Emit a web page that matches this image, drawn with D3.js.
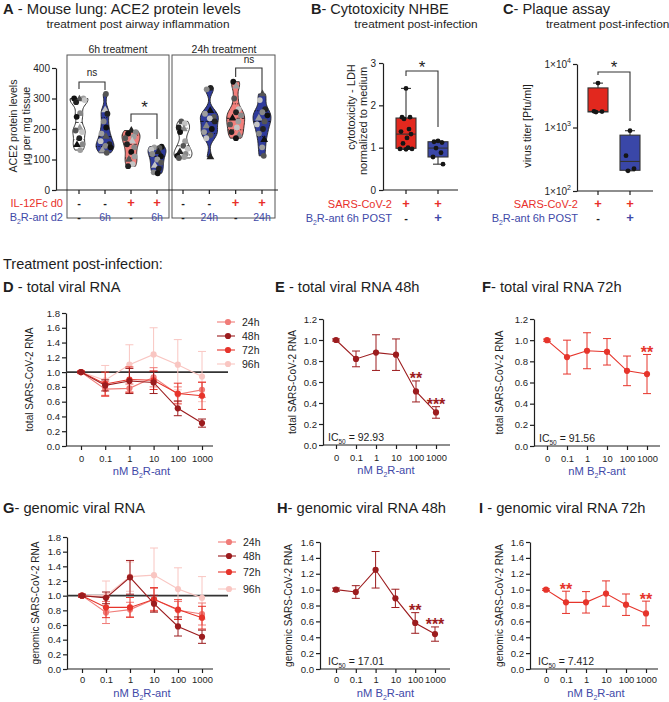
<!DOCTYPE html>
<html><head><meta charset="utf-8">
<script src="https://cdn.jsdelivr.net/npm/d3@7"></script>
<style>body{margin:0;background:#fff}svg{display:block}</style>
</head><body>
<svg id="c" width="669" height="702"></svg>
<script>
// ---------- DATA ----------
// Panel A: ACE2 protein (µg per mg tissue), individual mice
const aGroups = ["ctrl6h","b2r6h","il12_6h","il12b2r6h","ctrl24h","b2r24h","il12_24h","il12b2r24h"];
const aCtrl6h = [300,300,298,295,288,252,240,203,195,190,170,150,148,131];
const aB2r6h = [315,262,250,225,205,185,175,160,150,145,140,130,122];
const aIl12_6h = [195,190,185,175,170,160,150,140,125,110,100,85,78];
const aIl12B2r6h = [142,140,138,132,125,118,110,100,90,80,70,58,55];
const aCtrl24h = [225,218,205,200,190,160,145,135,125,118,112,108,105];
const aB2r24h = [335,330,260,250,240,235,225,210,200,190,180,170,108];
const aIl12_24h = [355,340,300,265,255,245,235,225,215,205,190,180,170];
const aIl12B2r24h = [315,295,265,255,245,235,225,215,200,185,165,140,112];
const aIl12Row = ["-","-","+","+","-","-","+","+"];
const aB2rRow = ["-","6h","-","6h","-","24h","-","24h"];
const aTicks = [0,100,200,300,400];
// Panel B: cytotoxicity (LDH, normalized)
const bSars = [2.4,1.72,1.72,1.68,1.44,1.38,1.32,1.23,1.1,1.0,0.97,0.97,0.96];
const bSarsB2r = [1.16,1.14,1.12,0.99,0.88,0.78,0.61];
const bTicks = [0,1,2,3];
// Panel C: plaque assay (Pfu/ml)
const cSars = [5000,1800,1780,1750];
const cSarsB2r = [890,360,224,208];
const cTicks = [100,1000,10000];
// Panels D-I: viral RNA vs dose
const doses = ["0","0.1","1","10","100","1000"];
const total24 = [1.0,0.77,0.78,0.93,0.70,0.76];
const total24Err = [0.02,0.10,0.06,0.13,0.10,0.10];
const total48 = [1.0,0.82,0.88,0.86,0.51,0.31];
const total48Err = [0.01,0.075,0.17,0.15,0.10,0.055];
const total72 = [1.0,0.84,0.90,0.89,0.71,0.68];
const total72Err = [0.01,0.16,0.17,0.125,0.14,0.185];
const total96 = [1.0,0.89,1.10,1.24,1.10,0.94];
const total96Err = [0.02,0.20,0.27,0.36,0.34,0.34];
const genomic24 = [1.0,0.77,0.81,0.95,0.80,0.75];
const genomic24Err = [0.02,0.15,0.10,0.15,0.12,0.15];
const genomic48 = [1.0,0.97,1.25,0.89,0.58,0.44];
const genomic48Err = [0.02,0.08,0.23,0.115,0.13,0.09];
const genomic72 = [1.0,0.84,0.84,0.95,0.81,0.70];
const genomic72Err = [0.01,0.14,0.135,0.16,0.135,0.155];
const genomic96 = [1.0,1.0,1.26,1.28,1.09,0.97];
const genomic96Err = [0.02,0.2,0.2,0.37,0.29,0.29];
const timeLabels = ["24h","48h","72h","96h"];

// ---------- STYLE ----------
const FONT = '"Liberation Sans", Arial, Helvetica, sans-serif';
const INK = "#1e1e1e";
const BLUE_TXT = "#4149a8";
const RED_TXT = "#e8302a";
const C24 = "#f07c78", C48 = "#9c1c1e", C72 = "#e6342b", C96 = "#f9c6c2";
const VBLUE = "#2f3b9b", VSALMON = "#f27f7b";

const svg = d3.select("#c").style("font-family", FONT);

function title(x, y, letter, rest, size) {
  const t = svg.append("text").attr("x", x).attr("y", y).attr("font-size", size || 14.7).attr("fill", INK);
  t.append("tspan").attr("font-weight", "bold").text(letter);
  t.append("tspan").text(rest);
}
function plain(x, y, s, size, anchor, color, rot) {
  const t = svg.append("text").attr("font-size", size).attr("fill", color || INK)
    .attr("text-anchor", anchor || "start").text(s);
  if (rot) t.attr("transform", `translate(${x},${y}) rotate(-90)`);
  else t.attr("x", x).attr("y", y);
  return t;
}
function b2rText(x, y, size, anchor, color, suffix) {
  const t = svg.append("text").attr("x", x).attr("y", y).attr("font-size", size)
    .attr("fill", color).attr("text-anchor", anchor);
  t.append("tspan").text(suffix[0]);
  t.append("tspan").attr("font-size", size * 0.62).attr("dy", 2.5).text("2");
  t.append("tspan").attr("dy", -2.5).text(suffix[1]);
  return t;
}
function styleAxis(g, fs) {
  g.select(".domain").attr("stroke", INK).attr("stroke-width", 1.2);
  g.selectAll(".tick line").attr("stroke", INK).attr("stroke-width", 1.2);
  g.selectAll(".tick text").attr("font-size", fs).attr("font-family", FONT).attr("fill", INK);
}
function gpQuantile(sorted, p) {
  const n = sorted.length, pos = p * (n + 1);
  if (pos <= 1) return sorted[0];
  if (pos >= n) return sorted[n - 1];
  const lo = Math.floor(pos), f = pos - lo;
  return sorted[lo - 1] + f * (sorted[lo] - sorted[lo - 1]);
}
function bracket(x1, x2, yTop, yL, yR) {
  svg.append("path").attr("d", `M${x1},${yL}V${yTop}H${x2}V${yR}`)
    .attr("fill", "none").attr("stroke", "#333").attr("stroke-width", 1.1);
}

// ---------- TITLES ----------
title(3, 14, "A", " - Mouse lung: ACE2 protein levels", 14.8);
plain(138, 28, "treatment post airway inflammation", 11.8, "middle");
title(311, 14, "B", "- Cytotoxicity NHBE", 14.5);
plain(416, 28, "treatment post-infection", 11.8, "middle");
title(503, 14, "C", "- Plaque assay", 14.6);
plain(546, 28, "treatment post-infection", 11.8, "start");
plain(3, 269, "Treatment post-infection:", 14.5, "start");

// ---------- PANEL A ----------
const aY = d3.scaleLinear().domain([0, 400]).range([190, 68]);
const aX6 = d3.scalePoint().domain(aGroups.slice(0, 4)).range([79, 157]);
const aX24 = d3.scalePoint().domain(aGroups.slice(4)).range([183, 262]);
const aXpos = g => aGroups.indexOf(g) < 4 ? aX6(g) : aX24(g);
svg.append("rect").attr("x", 67).attr("y", 55).attr("width", 102).attr("height", 163)
  .attr("fill", "none").attr("stroke", "#555").attr("stroke-width", 1);
svg.append("rect").attr("x", 172).attr("y", 55).attr("width", 103).attr("height", 163)
  .attr("fill", "none").attr("stroke", "#555").attr("stroke-width", 1);
plain(118, 53, "6h treatment", 10.5, "middle");
plain(224, 53, "24h treatment", 10.5, "middle");
{
  const ga = svg.append("g").attr("transform", "translate(56,0)")
    .call(d3.axisLeft(aY).tickValues(aTicks).tickSize(4).tickSizeOuter(0).tickPadding(2).tickFormat(d3.format("d")));
  styleAxis(ga, 10);
  svg.append("line").attr("x1", 56).attr("x2", 278).attr("y1", 190).attr("y2", 190)
    .attr("stroke", INK).attr("stroke-width", 1.2);
  aGroups.forEach(g => svg.append("line").attr("x1", aXpos(g)).attr("x2", aXpos(g))
    .attr("y1", 190).attr("y2", 194).attr("stroke", INK).attr("stroke-width", 1.2));
}
plain(17, 126, "ACE2 protein levels", 10.6, "middle", INK, true);
plain(30, 126, "µg per mg tissue", 10.6, "middle", INK, true);

const aSets = [aCtrl6h, aB2r6h, aIl12_6h, aIl12B2r6h, aCtrl24h, aB2r24h, aIl12_24h, aIl12B2r24h];
const aFills = ["#fff", VBLUE, VSALMON, VBLUE, "#fff", VBLUE, VSALMON, VBLUE];
const ptCols = ["#111", "#9e9e9e", "#555", "#c4c4c4", "#222", "#888"];
const jit = [-0.55, 0.5, 0.05, 0.62, -0.35, 0.3, -0.65, 0.15];
aSets.forEach((vals, gi) => {
  const cx = aXpos(aGroups[gi]);
  const lo = d3.min(vals), hi = d3.max(vals), h = 17;
  const dens = v => d3.sum(vals, d => Math.exp(-0.5 * ((v - d) / h) ** 2));
  const grid = d3.range(0, 41).map(i => lo + (hi - lo) * i / 40);
  const mx = d3.max(grid, dens);
  const W = 9;
  const hw = v => dens(v) / mx * W;
  const area = d3.area().y(d => aY(d)).x0(d => cx - hw(d)).x1(d => cx + hw(d)).curve(d3.curveBasis);
  svg.append("path").attr("d", area(grid)).attr("fill", aFills[gi])
    .attr("stroke", "#222").attr("stroke-width", 0.9);
  const s = vals.slice().sort(d3.ascending);
  [[0.25, "1,1.5"], [0.5, "3,2"], [0.75, "1,1.5"]].forEach(([p, da]) => {
    const q = gpQuantile(s, p), w = hw(q);
    svg.append("line").attr("x1", cx - w).attr("x2", cx + w).attr("y1", aY(q)).attr("y2", aY(q))
      .attr("stroke", aFills[gi] === "#fff" ? "#333" : "#111").attr("stroke-width", 0.9)
      .attr("stroke-dasharray", da);
  });
  vals.forEach((v, i) => {
    const px = cx + jit[(i + gi) % jit.length] * hw(v);
    const col = ptCols[(i + gi * 2) % ptCols.length];
    if ((i + gi) % 5 === 2) {
      svg.append("path").attr("d", d3.symbol(d3.symbolTriangle, 26)())
        .attr("transform", `translate(${px},${aY(v)})`).attr("fill", col);
    } else {
      svg.append("circle").attr("cx", px).attr("cy", aY(v)).attr("r", 2.9).attr("fill", col);
    }
  });
});
bracket(aXpos("ctrl6h"), aXpos("b2r6h"), 82, 89, 90);
plain(92, 76, "ns", 10, "middle");
bracket(aXpos("il12_6h"), aXpos("il12b2r6h"), 114, 122, 139);
plain(144.5, 113, "*", 17, "middle");
bracket(aXpos("il12_24h"), aXpos("il12b2r24h"), 68, 77, 93);
plain(249, 63, "ns", 10, "middle");
plain(63, 207, "IL-12Fc d0", 11, "end", RED_TXT);
b2rText(63, 221, 11, "end", BLUE_TXT, ["B", "R-ant d2"]);
aGroups.forEach((g, i) => {
  const cx = aXpos(g);
  plain(cx, 207, aIl12Row[i], aIl12Row[i] === "+" ? 13 : 11, "middle", aIl12Row[i] === "+" ? RED_TXT : INK)
    .attr("font-weight", "bold");
  plain(cx, 221, aB2rRow[i], 10.5, "middle", aB2rRow[i] === "-" ? INK : BLUE_TXT)
    .attr("font-weight", aB2rRow[i] === "-" ? "bold" : "normal");
});

// ---------- BOX PLOTS (B, C) ----------
function boxPlot(vals, cx, y, fill) {
  const s = vals.slice().sort(d3.ascending);
  const q1 = gpQuantile(s, 0.25), md = gpQuantile(s, 0.5), q3 = gpQuantile(s, 0.75);
  const mn = s[0], mxv = s[s.length - 1], bw = 20;
  const ln = (x1, y1, x2, y2) => svg.append("line").attr("x1", x1).attr("y1", y1).attr("x2", x2).attr("y2", y2)
    .attr("stroke", "#333").attr("stroke-width", 1.1);
  ln(cx, y(mxv), cx, y(q3)); ln(cx, y(q1), cx, y(mn));
  ln(cx - 5, y(mxv), cx + 5, y(mxv)); ln(cx - 5, y(mn), cx + 5, y(mn));
  svg.append("rect").attr("x", cx - bw / 2).attr("y", y(q3)).attr("width", bw).attr("height", y(q1) - y(q3))
    .attr("fill", fill).attr("stroke", "#333").attr("stroke-width", 1.1);
  ln(cx - bw / 2, y(md), cx + bw / 2, y(md));
  const off = [0, -4, 4, -2, 3, -5, 5, 1, -3, 2, -6, 6, 0];
  vals.forEach((v, i) => svg.append("circle").attr("cx", cx + off[i % off.length]).attr("cy", y(v))
    .attr("r", 2.4).attr("fill", "#151515"));
}
// Panel B
const bY = d3.scaleLinear().domain([0, 3]).range([190, 63]);
const bX = d3.scalePoint().domain(["SARS", "SARS+B2R"]).range([406, 438]);
{
  const g = svg.append("g").attr("transform", "translate(383,0)")
    .call(d3.axisLeft(bY).tickValues(bTicks).tickSize(4).tickSizeOuter(0).tickPadding(3).tickFormat(d3.format("d")));
  styleAxis(g, 10);
  svg.append("line").attr("x1", 383).attr("x2", 458).attr("y1", 190).attr("y2", 190).attr("stroke", INK).attr("stroke-width", 1.2);
  bX.domain().forEach(d => svg.append("line").attr("x1", bX(d)).attr("x2", bX(d)).attr("y1", 190).attr("y2", 194).attr("stroke", INK).attr("stroke-width", 1.2));
}
boxPlot(bSars, bX("SARS"), bY, "#e2281e");
boxPlot(bSarsB2r, bX("SARS+B2R"), bY, "#3a47a8");
bracket(bX("SARS"), bX("SARS+B2R"), 71, 76, 127);
plain(422, 73, "*", 17, "middle");
plain(355, 107, "cytotoxicity - LDH", 11, "middle", INK, true);
plain(367, 121, "normalized to medium", 11, "middle", INK, true);
plain(392, 208, "SARS-CoV-2", 11, "end", RED_TXT);
b2rText(392, 222, 11, "end", BLUE_TXT, ["B", "R-ant 6h POST"]);
plain(bX("SARS"), 208, "+", 13, "middle", RED_TXT).attr("font-weight", "bold");
plain(bX("SARS+B2R"), 208, "+", 13, "middle", RED_TXT).attr("font-weight", "bold");
plain(bX("SARS"), 222, "-", 11, "middle", INK).attr("font-weight", "bold");
plain(bX("SARS+B2R"), 222, "+", 13, "middle", BLUE_TXT).attr("font-weight", "bold");

// Panel C
const cY = d3.scaleLog().domain([100, 10000]).range([191, 64]);
const cX = d3.scalePoint().domain(["SARS", "SARS+B2R"]).range([598, 630]);
{
  const g = svg.append("g").attr("transform", "translate(577,0)")
    .call(d3.axisLeft(cY).tickValues(cTicks).tickSize(4).tickSizeOuter(0).tickPadding(3).tickFormat(() => ""));
  styleAxis(g, 10);
  cTicks.forEach(t => {
    const tx = svg.append("text").attr("x", 571).attr("y", cY(t) + 3.5).attr("font-size", 10)
      .attr("text-anchor", "end").attr("fill", INK);
    tx.append("tspan").text("1×10");
    tx.append("tspan").attr("font-size", 7).attr("dy", -5).text(String(Math.round(Math.log10(t))));
  });
  svg.append("line").attr("x1", 577).attr("x2", 653).attr("y1", 191).attr("y2", 191).attr("stroke", INK).attr("stroke-width", 1.2);
  cX.domain().forEach(d => svg.append("line").attr("x1", cX(d)).attr("x2", cX(d)).attr("y1", 191).attr("y2", 195).attr("stroke", INK).attr("stroke-width", 1.2));
}
boxPlot(cSars, cX("SARS"), cY, "#e2281e");
boxPlot(cSarsB2r, cX("SARS+B2R"), cY, "#3a47a8");
bracket(cX("SARS"), cX("SARS+B2R"), 72, 75, 121);
plain(614, 73, "*", 17, "middle");
plain(531, 126, "virus titer [Pfu/ml]", 10.8, "middle", INK, true);
plain(578, 208, "SARS-CoV-2", 11, "end", RED_TXT);
b2rText(578, 222, 11, "end", BLUE_TXT, ["B", "R-ant 6h POST"]);
plain(cX("SARS"), 208, "+", 13, "middle", RED_TXT).attr("font-weight", "bold");
plain(cX("SARS+B2R"), 208, "+", 13, "middle", RED_TXT).attr("font-weight", "bold");
plain(cX("SARS"), 222, "-", 11, "middle", INK).attr("font-weight", "bold");
plain(cX("SARS+B2R"), 222, "+", 13, "middle", BLUE_TXT).attr("font-weight", "bold");

// ---------- LINE PANELS ----------
function linePanel(o) {
  const x = d3.scalePoint().domain(doses).range([o.xFirst, o.xLast]);
  const y = d3.scaleLinear().domain([0, o.yMax]).range([o.y0, o.yTop]);
  const ya = svg.append("g").attr("transform", `translate(${o.axisX},0)`)
    .call(d3.axisLeft(y).tickValues(d3.range(0, o.yMax + 1e-6, 0.2)).tickSize(4).tickSizeOuter(0)
      .tickPadding(2).tickFormat(d3.format(".1f")));
  styleAxis(ya, 9.6);
  svg.append("line").attr("x1", o.axisX).attr("x2", o.axisEnd).attr("y1", o.y0).attr("y2", o.y0)
    .attr("stroke", INK).attr("stroke-width", 1.2);
  const xa = svg.append("g").attr("transform", `translate(0,${o.y0})`)
    .call(d3.axisBottom(x).tickSize(4).tickSizeOuter(0).tickPadding(o.tickPad));
  xa.select(".domain").remove();
  styleAxis(xa, 9.4);
  if (o.ref) svg.append("line").attr("x1", o.axisX).attr("x2", o.refEnd).attr("y1", y(1)).attr("y2", y(1))
    .attr("stroke", "#333").attr("stroke-width", 1.6);
  o.series.forEach(s => {
    const g = svg.append("g");
    s.mean.forEach((m, i) => {
      const e = s.err[i], cx = x(doses[i]);
      g.append("line").attr("x1", cx).attr("x2", cx).attr("y1", y(m - e)).attr("y2", y(m + e))
        .attr("stroke", s.color).attr("stroke-width", 1);
      [m - e, m + e].forEach(v => g.append("line").attr("x1", cx - 4).attr("x2", cx + 4)
        .attr("y1", y(v)).attr("y2", y(v)).attr("stroke", s.color).attr("stroke-width", 1));
    });
    g.append("path").attr("d", d3.line().x((d, i) => x(doses[i])).y(d => y(d))(s.mean))
      .attr("fill", "none").attr("stroke", s.color).attr("stroke-width", 1.1);
    s.mean.forEach((m, i) => g.append("circle").attr("cx", x(doses[i])).attr("cy", y(m))
      .attr("r", 3.1).attr("fill", s.color));
  });
  (o.stars || []).forEach(st => {
    const s = o.series[0], i = doses.indexOf(st.dose);
    plain(x(st.dose), y(s.mean[i] + s.err[i]) + 3.5, st.t, 16, "middle", s.color).attr("font-weight", "bold");
  });
  plain(o.yLabX, (o.y0 + o.yTop) / 2, o.yLab, 10, "middle", INK, true);
  b2rText((o.xFirst + o.xLast) / 2, o.y0 + o.xLabDy, 11.2, "middle", BLUE_TXT, ["nM B", "R-ant"]);
  if (o.ic) {
    const t = svg.append("text").attr("x", o.icX).attr("y", o.y0 - 4).attr("font-size", 10.5).attr("fill", INK);
    t.append("tspan").text("IC");
    t.append("tspan").attr("font-size", 6.5).attr("dy", 2.5).text("50");
    t.append("tspan").attr("dy", -2.5).text(" = " + o.ic);
  }
  return { x, y };
}
function legend(x0, ys, cols) {
  timeLabels.forEach((l, i) => {
    svg.append("line").attr("x1", x0 - 11).attr("x2", x0 + 7).attr("y1", ys[i]).attr("y2", ys[i])
      .attr("stroke", cols[i]).attr("stroke-width", 1.1);
    svg.append("circle").attr("cx", x0).attr("cy", ys[i]).attr("r", 3.1).attr("fill", cols[i]);
    plain(x0 + 14, ys[i] + 3.8, l, 10.5, "start");
  });
}
const legendCols = [C24, C48, C72, C96];

// D
title(3, 292, "D", " - total viral RNA");
linePanel({ xFirst: 81, xLast: 202, axisX: 66, axisEnd: 213, y0: 446, yTop: 313, yMax: 1.8, xLabDy: 29, tickPad: 5,
  ref: true, refEnd: 228, yLabX: 33, yLab: "total SARS-CoV-2 RNA",
  series: [
    { mean: total96, err: total96Err, color: C96 },
    { mean: total24, err: total24Err, color: C24 },
    { mean: total72, err: total72Err, color: C72 },
    { mean: total48, err: total48Err, color: C48 }] });
legend(228, [322, 336, 350, 364], legendCols);
// E
title(275, 292, "E", " - total viral RNA 48h");
linePanel({ xFirst: 336, xLast: 436, axisX: 323, axisEnd: 450, y0: 445, yTop: 319, yMax: 1.2, xLabDy: 29, tickPad: 5,
  yLabX: 296, yLab: "total SARS-CoV-2 RNA", ic: "92.93", icX: 328,
  series: [{ mean: total48, err: total48Err, color: C48 }],
  stars: [{ dose: "100", t: "**" }, { dose: "1000", t: "***" }] });
// F
title(482, 292, "F", "- total viral RNA 72h");
linePanel({ xFirst: 547, xLast: 647, axisX: 534, axisEnd: 660, y0: 446, yTop: 319, yMax: 1.2, xLabDy: 29, tickPad: 5,
  yLabX: 503, yLab: "total SARS-CoV-2 RNA", ic: "91.56", icX: 539,
  series: [{ mean: total72, err: total72Err, color: C72 }],
  stars: [{ dose: "1000", t: "**" }] });
// G
title(3, 513, "G", "- genomic viral RNA");
linePanel({ xFirst: 82, xLast: 202, axisX: 67, axisEnd: 213, y0: 669, yTop: 537, yMax: 1.8, xLabDy: 28, tickPad: 3,
  ref: true, refEnd: 228, yLabX: 39, yLab: "genomic SARS-CoV-2 RNA",
  series: [
    { mean: genomic96, err: genomic96Err, color: C96 },
    { mean: genomic24, err: genomic24Err, color: C24 },
    { mean: genomic72, err: genomic72Err, color: C72 },
    { mean: genomic48, err: genomic48Err, color: C48 }] });
legend(229, [542, 556, 572, 589], legendCols);
// H
title(277, 513, "H", "- genomic viral RNA 48h");
linePanel({ xFirst: 336, xLast: 435, axisX: 320, axisEnd: 450, y0: 669, yTop: 542, yMax: 1.6, xLabDy: 28, tickPad: 3,
  yLabX: 292, yLab: "genomic SARS-CoV-2 RNA", ic: "17.01", icX: 328,
  series: [{ mean: genomic48, err: genomic48Err, color: C48 }],
  stars: [{ dose: "100", t: "**" }, { dose: "1000", t: "***" }] });
// I
title(479, 513, "I", " - genomic viral RNA 72h");
linePanel({ xFirst: 546, xLast: 646, axisX: 530, axisEnd: 658, y0: 669, yTop: 542, yMax: 1.6, xLabDy: 28, tickPad: 3,
  yLabX: 503, yLab: "genomic SARS-CoV-2 RNA", ic: "7.412", icX: 538,
  series: [{ mean: genomic72, err: genomic72Err, color: C72 }],
  stars: [{ dose: "0.1", t: "**" }, { dose: "1000", t: "**" }] });
</script>
</body></html>
